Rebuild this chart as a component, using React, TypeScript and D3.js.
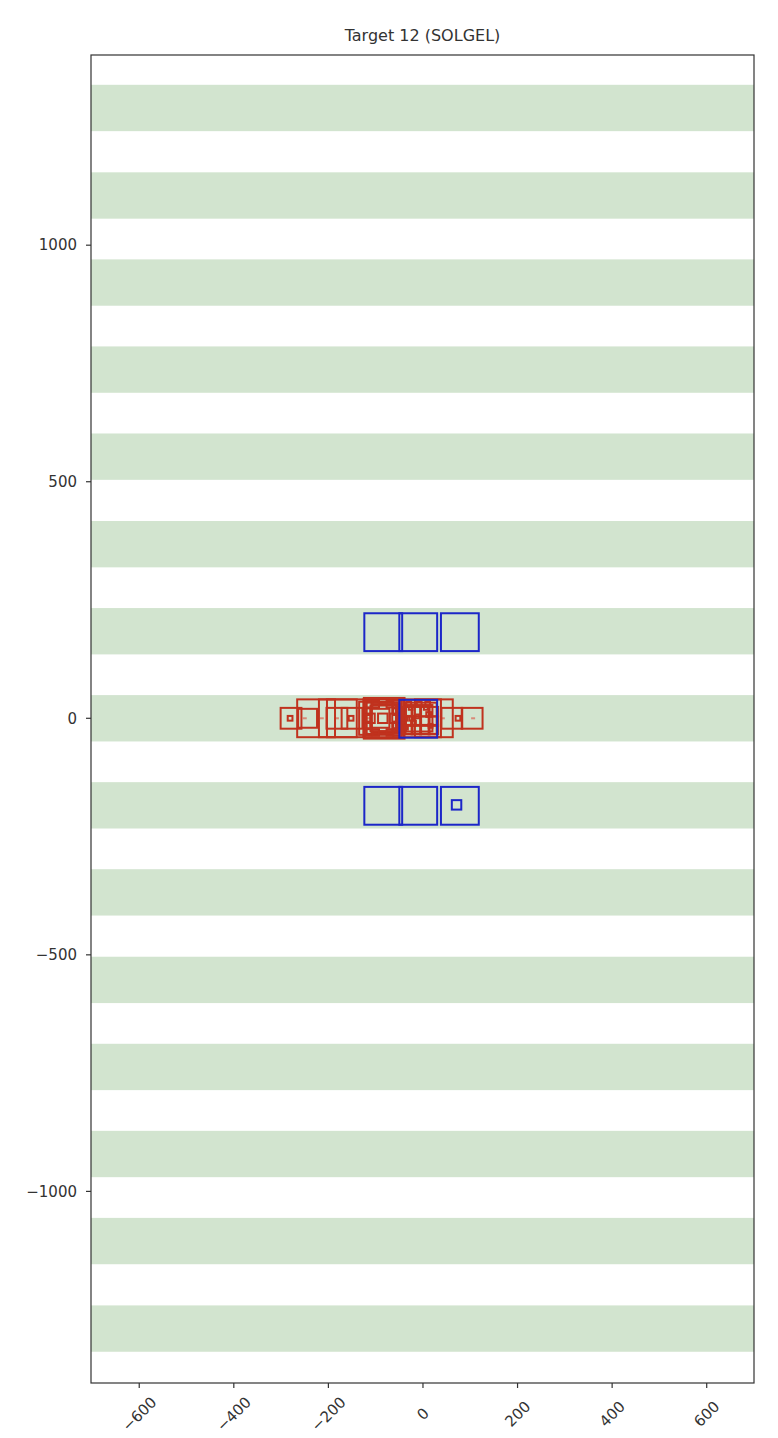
import React, { useEffect, useRef } from 'react';
import * as d3 from 'd3';

// plot limits (data units)
const xLimits = [-702, 700];
const yLimits = [-1405, 1402];
const xTicks = [-600, -400, -200, 0, 200, 400, 600];
const yTicks = [-1000, -500, 0, 500, 1000];

// horizontal green bands: centre y and height
const stripeCenters = [-1290, -1105, -921, -737, -553, -368, -184, 0, 184, 368, 553, 737, 921, 1105, 1290];
const stripeHeight = 98;

// blue squares: [cx, cy, size]
const blueSquares = [
  [-84, 182, 80], [-10, 182, 80], [78, 182, 80],
  [-84, -185, 80], [-10, -185, 80], [78, -185, 80],
  [71, -183, 20],
  [-10, -1, 80],
];

// red squares: [cx, cy, size]
const redSquares = [
  // large
  [-226, 0, 80], [-180, 0, 80], [-163, 0, 80], [-82, 0, 86], [-86, 0, 80],
  [-2, 0, 80], [23, 0, 80],
  // medium
  [-279, 0, 44], [-244, 0, 40], [-182, 0, 44], [-150, 0, 44],
  [-91, 0, 40], [-78, 0, 60], [-100, 0, 70], [-86, 0, 66], [-84, 0, 54],
  [61, 0, 44], [104, 0, 44], [-4, 0, 66], [-8, 0, 56],
  // small
  [-281, 0, 10], [-152, 0, 10], [74, 0, 10], [-85, 0, 20],
  [-112, 0, 20], [-60, 0, 20],
  [-116, -30, 14], [-116, -14, 14], [-116, 14, 14], [-116, 30, 14],
  [-56, -30, 14], [-56, -14, 14], [-56, 14, 14], [-56, 30, 14],
  [-100, -30, 14], [-70, -30, 14], [-100, 30, 14], [-70, 30, 14],
  [-32, -24, 20], [-14, -24, 20], [4, -24, 20], [22, -24, 20],
  [-32, -6, 20], [-14, -6, 20], [4, -6, 20], [22, -6, 20],
  [-32, 14, 20], [-14, 14, 20], [4, 14, 20], [22, 14, 20],
  [-30, 30, 10], [-8, 30, 10], [10, 30, 10],
  [-38, 0, 10], [-24, 0, 10], [-20, -10, 10], [12, 8, 10],
  [-26, 22, 8], [-12, 4, 8], [16, -16, 8], [-36, -20, 8], [6, 22, 8],
];

// faint tiny squares along the row
const tinySquares = [-250, -214, -182, -116, -55, 42, 106];

export default function App() {
  const ref = useRef<SVGSVGElement | null>(null);

  useEffect(() => {
    const svg = d3.select(ref.current);
    svg.selectAll('*').remove();
    const left = 91, right = 754, top = 55, bottom = 1383;
    const x = d3.scaleLinear().domain(xLimits).range([left, right]);
    const y = d3.scaleLinear().domain(yLimits).range([bottom, top]);
    const k = x(1) - x(0);

    const g = svg.append('g');
    g.append('defs').append('clipPath').attr('id', 'plotclip')
      .append('rect').attr('x', left).attr('y', top)
      .attr('width', right - left).attr('height', bottom - top);

    const plot = g.append('g').attr('clip-path', 'url(#plotclip)');

    plot.selectAll('rect.stripe')
      .data(stripeCenters)
      .enter()
      .append('rect')
      .attr('class', 'stripe')
      .attr('x', left)
      .attr('width', right - left)
      .attr('y', d => y(d + stripeHeight / 2))
      .attr('height', stripeHeight * k)
      .attr('fill', '#d2e4cf');

    plot.selectAll('rect.tiny')
      .data(tinySquares)
      .enter()
      .append('rect')
      .attr('x', d => x(d) - 2)
      .attr('y', y(0) - 1)
      .attr('width', 4)
      .attr('height', 2)
      .attr('fill', '#d98a78');

    plot.selectAll('rect.red')
      .data(redSquares)
      .enter()
      .append('rect')
      .attr('x', d => x(d[0] - d[2] / 2))
      .attr('y', d => y(d[1] + d[2] / 2))
      .attr('width', d => d[2] * k)
      .attr('height', d => d[2] * k)
      .attr('fill', 'none')
      .attr('stroke', '#c0321e')
      .attr('stroke-width', 2);

    plot.selectAll('rect.blue')
      .data(blueSquares)
      .enter()
      .append('rect')
      .attr('x', d => x(d[0] - d[2] / 2))
      .attr('y', d => y(d[1] + d[2] / 2))
      .attr('width', d => d[2] * k)
      .attr('height', d => d[2] * k)
      .attr('fill', 'none')
      .attr('stroke', '#1c26c8')
      .attr('stroke-width', 2);

    // frame
    g.append('rect')
      .attr('x', left).attr('y', top)
      .attr('width', right - left).attr('height', bottom - top)
      .attr('fill', 'none').attr('stroke', '#333').attr('stroke-width', 1.2);

    const font = 'DejaVu Sans, sans-serif';
    const fmt = (d: number) => String(d).replace('-', '\u2212');

    // y axis
    const yt = g.append('g').selectAll('g').data(yTicks).enter().append('g');
    yt.append('line')
      .attr('x1', left - 5).attr('x2', left)
      .attr('y1', d => y(d)).attr('y2', d => y(d))
      .attr('stroke', '#333').attr('stroke-width', 1.2);
    yt.append('text')
      .attr('x', left - 14)
      .attr('y', d => y(d))
      .attr('dy', '0.35em')
      .attr('text-anchor', 'end')
      .style('font-family', font)
      .style('font-size', '15px')
      .attr('fill', '#333')
      .text(fmt);

    // x axis
    const xt = g.append('g').selectAll('g').data(xTicks).enter().append('g');
    xt.append('line')
      .attr('x1', d => x(d)).attr('x2', d => x(d))
      .attr('y1', bottom).attr('y2', bottom + 5)
      .attr('stroke', '#333').attr('stroke-width', 1.2);
    xt.append('text')
      .attr('transform', d => `translate(${x(d)},${bottom + 31}) rotate(-45)`)
      .attr('text-anchor', 'middle')
      .attr('dy', '0.35em')
      .style('font-family', font)
      .style('font-size', '15px')
      .attr('fill', '#333')
      .text(fmt);

    // title
    g.append('text')
      .attr('x', (left + right) / 2)
      .attr('y', 41)
      .attr('text-anchor', 'middle')
      .style('font-family', font)
      .style('font-size', '16px')
      .attr('fill', '#333')
      .text('Target 12 (SOLGEL)');
  }, []);

  return (
    <svg ref={ref} width={778} height={1438} style={{ display: 'block', position: 'absolute', left: 0, top: 0, background: '#fff' }} />
  );
}
